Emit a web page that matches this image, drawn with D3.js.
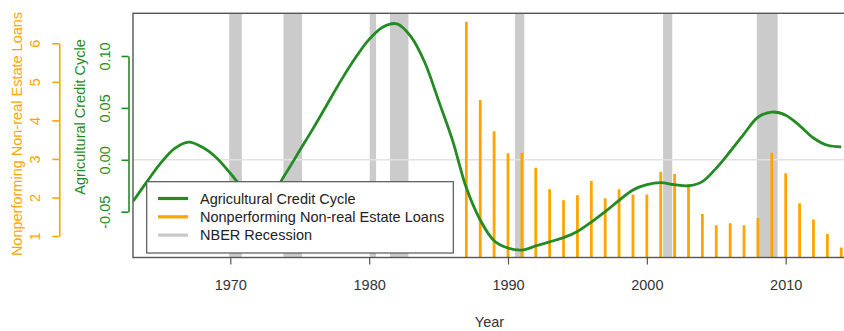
<!DOCTYPE html>
<html>
<head>
<meta charset="utf-8">
<script src="https://cdn.jsdelivr.net/npm/d3@7"></script>
<style>
  html, body { margin: 0; padding: 0; background: #fff; }
  svg { display: block; font-family: "Liberation Sans", Arial, sans-serif; }
</style>
</head>
<body>
<svg id="chart" width="844" height="331"></svg>
<script>
// ---- data ----
const cycleYears = d3.range(1963, 2015);
const cycleValues = [
  -0.040, -0.021, -0.003, 0.011, 0.017, 0.012, 0.002, -0.013, -0.028, -0.035,
  -0.032, -0.013, 0.009, 0.031, 0.054, 0.077, 0.098, 0.116, 0.128, 0.131,
  0.119, 0.094, 0.057, 0.019, -0.027, -0.058, -0.078, -0.085, -0.087, -0.083,
  -0.079, -0.075, -0.069, -0.060, -0.050, -0.039, -0.029, -0.024, -0.022, -0.024,
  -0.025, -0.021, -0.008, 0.008, 0.025, 0.041, 0.046, 0.043, 0.033, 0.021,
  0.014, 0.0125
];
const loanYears = d3.range(1987, 2015);
const loanValues = [
  6.56, 4.53, 3.72, 3.15, 3.16, 2.77, 2.21, 1.93, 2.06, 2.43,
  1.98, 2.21, 2.08, 2.08, 2.67, 2.61, 2.34, 1.57, 1.28, 1.33,
  1.28, 1.47, 3.16, 2.63, 1.85, 1.43, 1.05, 0.70
];
const recessionStart = [1969.92, 1973.83, 1980.04, 1981.5, 1990.5, 2001.17, 2007.92];
const recessionEnd   = [1970.83, 1975.17, 1980.5, 1982.83, 1991.17, 2001.83, 2009.42];
const xTicks = [1970, 1980, 1990, 2000, 2010];
const cycleTicks = [-0.05, 0.00, 0.05, 0.10];
const loanTicks = [1, 2, 3, 4, 5, 6];
const legendLabels = ["Agricultural Credit Cycle", "Nonperforming Non-real Estate Loans", "NBER Recession"];

// ---- layout ----
const GREEN = "#228B22", ORANGE = "#FFA500", GREY = "#cbcbcb", BOX = "#555";
const plot = { left: 133, right: 848, top: 13.3, bottom: 257.5 };
const svg = d3.select("#chart");
svg.append("rect").attr("width", 844).attr("height", 331).attr("fill", "#fff");

const x = d3.scaleLinear().domain([1970, 2010]).range([230.3, 785.7]);
const yCycle = d3.scaleLinear().domain([-0.05, 0.10]).range([211.7, 56]);
const yLoan = d3.scaleLinear().domain([1, 6]).range([236, 43.3]);

svg.append("defs").append("clipPath").attr("id", "clip")
  .append("rect").attr("x", plot.left).attr("y", plot.top)
  .attr("width", plot.right - plot.left).attr("height", plot.bottom - plot.top);

const g = svg.append("g").attr("clip-path", "url(#clip)");

// recessions
g.selectAll("rect.rec").data(recessionStart).join("rect")
  .attr("class", "rec")
  .attr("x", (d) => x(d))
  .attr("width", (d, i) => x(recessionEnd[i]) - x(d))
  .attr("y", plot.top).attr("height", plot.bottom - plot.top)
  .attr("fill", GREY);

// zero line
g.append("line")
  .attr("x1", plot.left).attr("x2", plot.right)
  .attr("y1", yCycle(0)).attr("y2", yCycle(0))
  .attr("stroke", "#e2e2e2").attr("stroke-width", 1.6);

// bars
g.selectAll("line.bar").data(loanValues).join("line")
  .attr("class", "bar")
  .attr("x1", (d, i) => x(loanYears[i])).attr("x2", (d, i) => x(loanYears[i]))
  .attr("y1", plot.bottom).attr("y2", (d) => yLoan(d))
  .attr("stroke", ORANGE).attr("stroke-width", 2.8);

// cycle line
const line = d3.line()
  .x((d, i) => x(cycleYears[i]))
  .y((d) => yCycle(d))
  .curve(d3.curveCatmullRom.alpha(0.5));
g.append("path").datum(cycleValues)
  .attr("d", line).attr("fill", "none")
  .attr("stroke", GREEN).attr("stroke-width", 2.8).attr("stroke-linejoin", "round");

// box
svg.append("rect")
  .attr("x", plot.left).attr("y", plot.top)
  .attr("width", plot.right - plot.left).attr("height", plot.bottom - plot.top)
  .attr("fill", "none").attr("stroke", BOX).attr("stroke-width", 1.4);

// x axis
const xAxis = svg.append("g").attr("transform", `translate(0,${plot.bottom})`)
  .call(d3.axisBottom(x).tickValues(xTicks).tickFormat(d3.format("d")).tickSize(7).tickSizeOuter(0));
xAxis.select(".domain").remove();
xAxis.selectAll(".tick line").attr("stroke", BOX).attr("stroke-width", 1.2);
xAxis.selectAll(".tick text").attr("fill", "#333").attr("font-size", "14.5px")
  .attr("y", 0).attr("dy", 0).attr("transform", "translate(0,32.5)");

svg.append("text").attr("x", (plot.left + 846) / 2).attr("y", 327)
  .attr("text-anchor", "middle").attr("fill", "#333").attr("font-size", "14.5px").text("Year");

// left axes
function styleLeft(sel, color, labelOffset) {
  sel.select(".domain").attr("stroke", color).attr("stroke-width", 1.6);
  sel.selectAll(".tick line").attr("stroke", color).attr("stroke-width", 1.6);
  sel.selectAll(".tick text")
    .attr("fill", color).attr("font-size", "14.5px")
    .attr("x", 0).attr("dy", 0).attr("text-anchor", "middle")
    .attr("transform", `translate(${labelOffset},0) rotate(-90)`);
}

const loanAxis = svg.append("g").attr("transform", "translate(59.3,0)")
  .call(d3.axisLeft(yLoan).tickValues(loanTicks).tickFormat(d3.format("d")).tickSize(7).tickSizeOuter(0));
styleLeft(loanAxis, ORANGE, -19.3);

const cycleAxis = svg.append("g").attr("transform", "translate(128.5,0)")
  .call(d3.axisLeft(yCycle).tickValues(cycleTicks).tickFormat((d) => d.toFixed(2)).tickSize(7).tickSizeOuter(0));
styleLeft(cycleAxis, GREEN, -18.3);

svg.append("text").attr("transform", "translate(22.3,134) rotate(-90)")
  .attr("text-anchor", "middle").attr("fill", ORANGE).attr("font-size", "14.5px")
  .text("Nonperforming Non-real Estate Loans");
svg.append("text").attr("transform", "translate(85.2,117) rotate(-90)")
  .attr("text-anchor", "middle").attr("fill", GREEN).attr("font-size", "14.5px")
  .text("Agricultural Credit Cycle");

// legend
const lg = svg.append("g");
lg.append("rect").attr("x", 146.7).attr("y", 181.7).attr("width", 306.6).attr("height", 71.3)
  .attr("fill", "#fff").attr("stroke", BOX).attr("stroke-width", 1.2);
const legendColors = [GREEN, ORANGE, "#c8c8c8"];
legendLabels.forEach((lab, i) => {
  const yy = 198.5 + i * 18.3;
  lg.append("line").attr("x1", 158).attr("x2", 188).attr("y1", yy).attr("y2", yy)
    .attr("stroke", legendColors[i]).attr("stroke-width", 3.2);
  lg.append("text").attr("x", 200).attr("y", yy + 5.2).attr("fill", "#222")
    .attr("font-size", "14.5px").text(lab);
});
</script>
</body>
</html>
